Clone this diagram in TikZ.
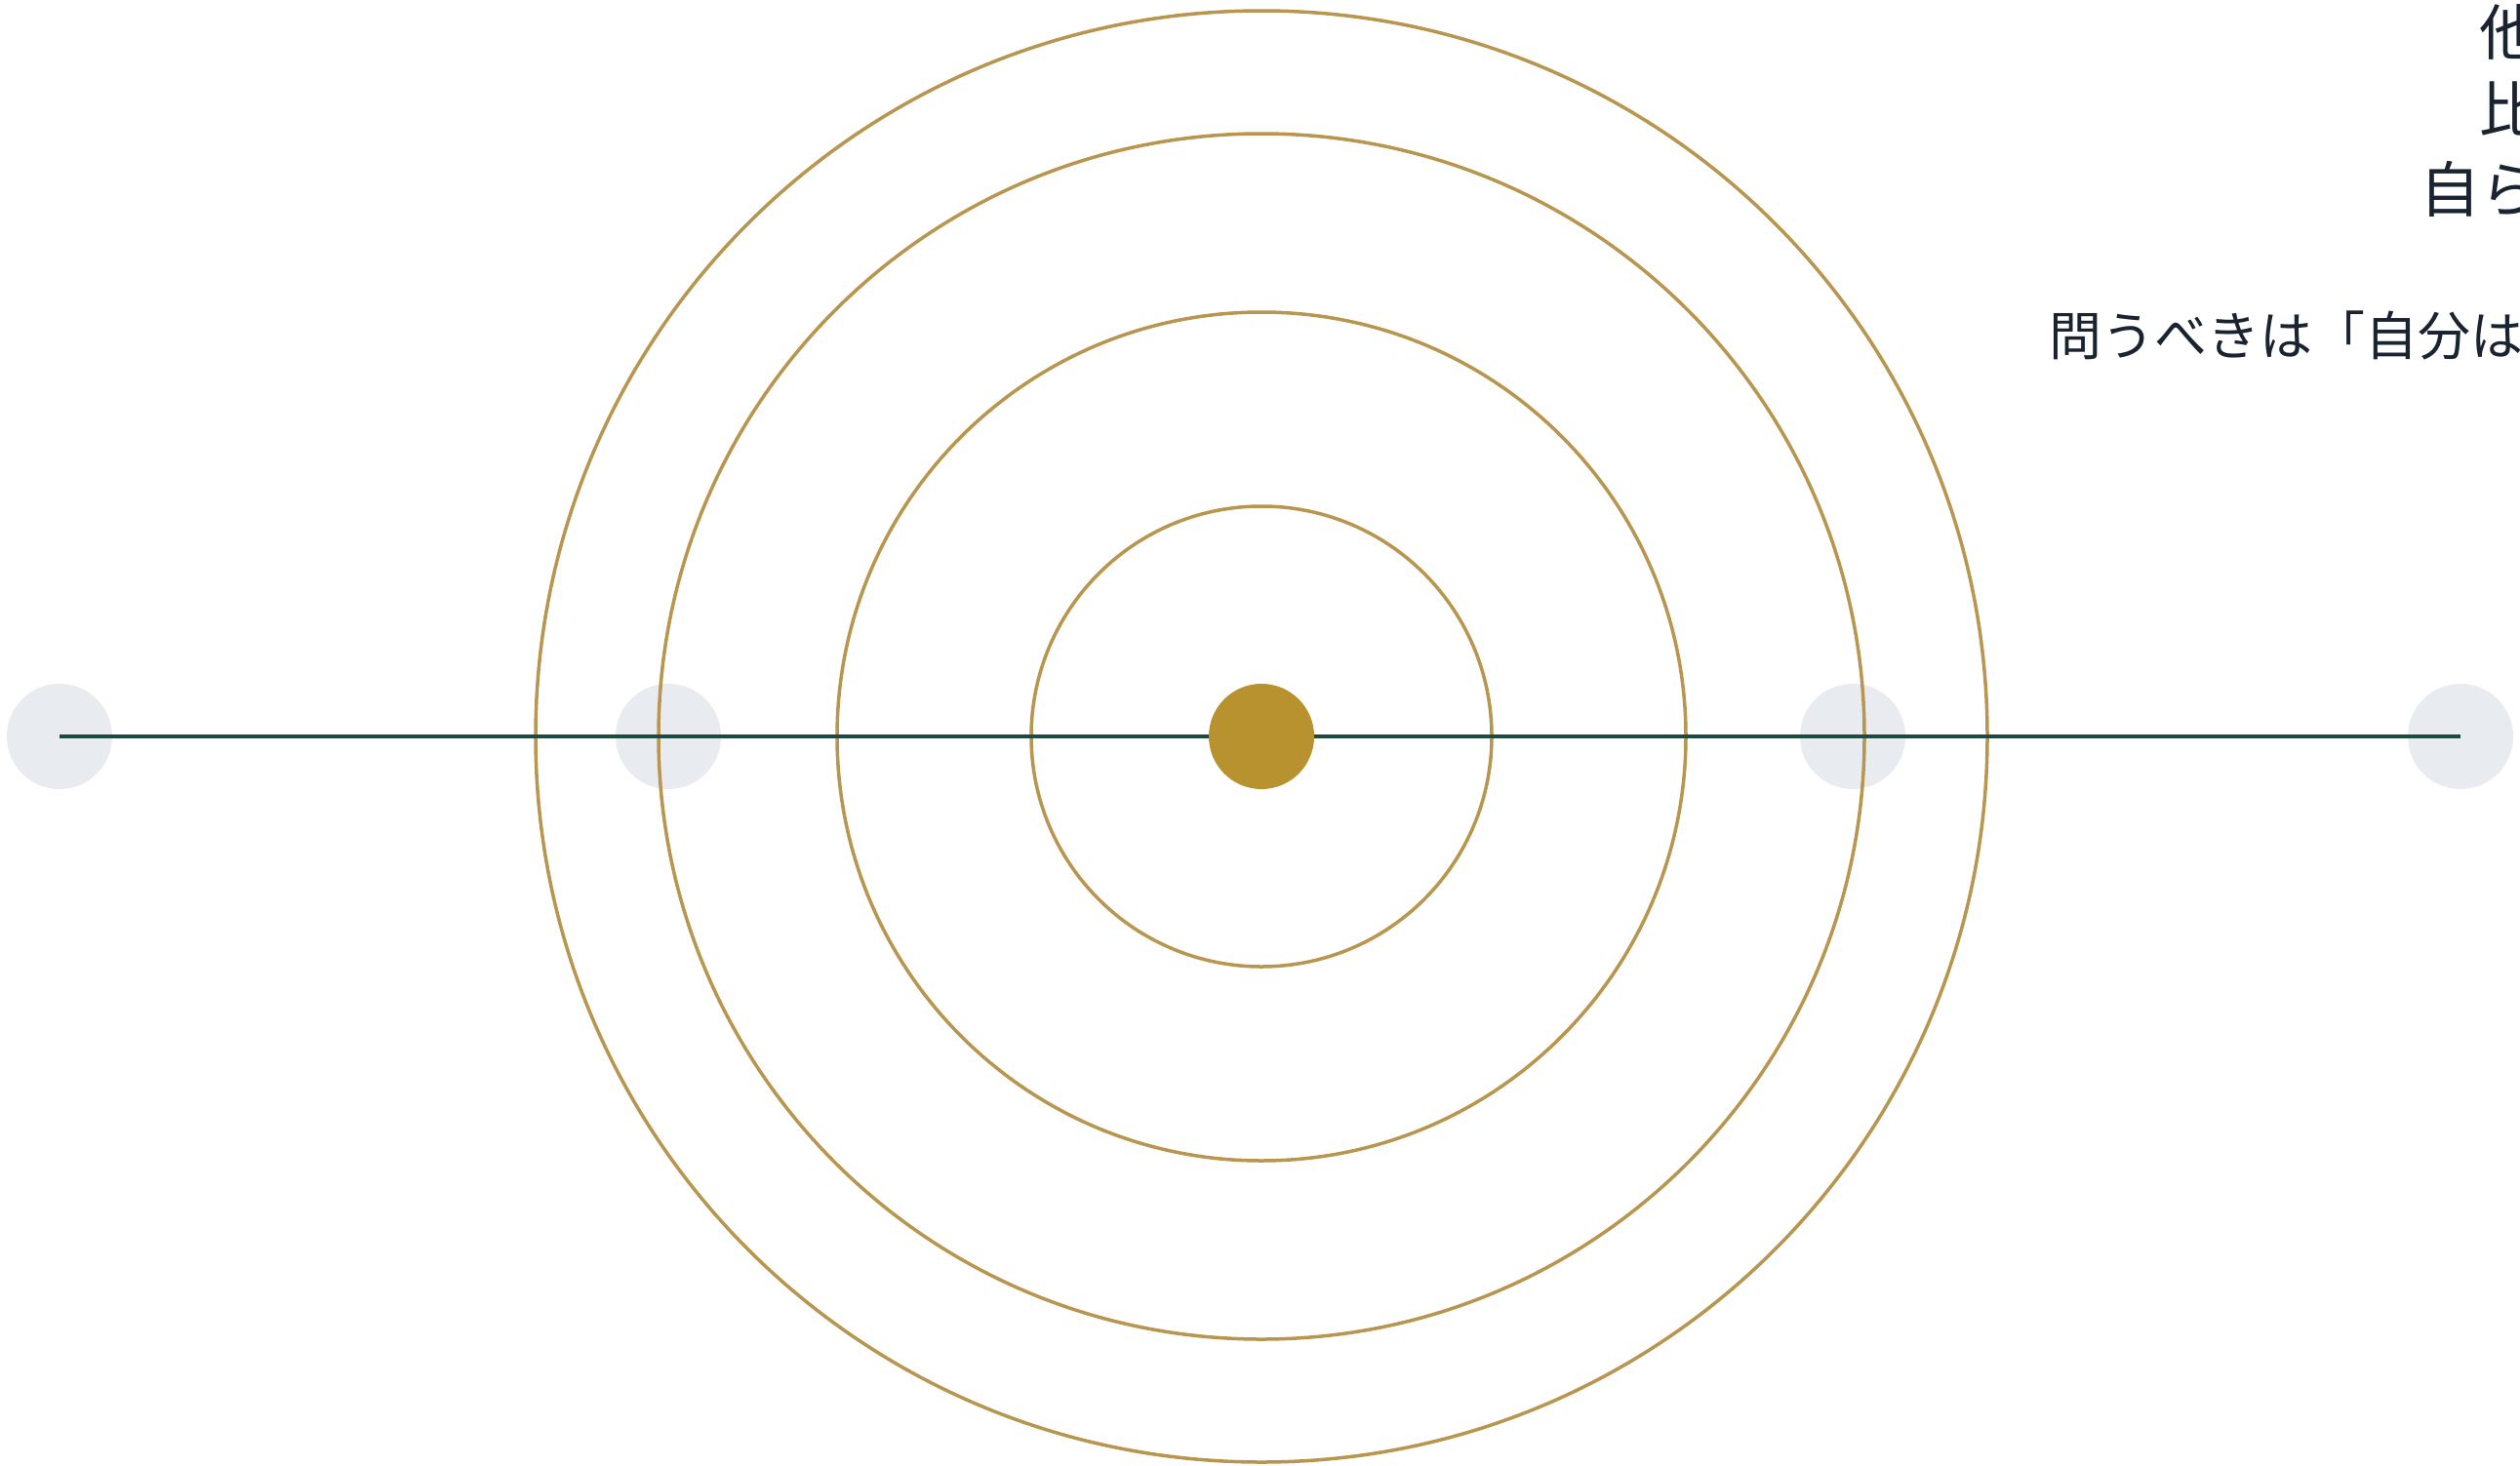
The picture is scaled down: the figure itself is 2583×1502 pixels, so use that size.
\documentclass[tikz,border=0pt]{standalone}
\usepackage{fontspec}
\newfontfamily\jp{Noto Sans CJK JP}
\definecolor{ringgold}{HTML}{B8964F}
\definecolor{dotgold}{HTML}{B8922F}
\definecolor{linegreen}{HTML}{1E4A42}
\definecolor{softgray}{HTML}{E8EBEF}
\definecolor{ink}{HTML}{1A2330}
\tikzset{
  ring/.style={draw=ringgold, line width=3.5pt},
  halo/.style={circle, fill=softgray, minimum size=108pt, inner sep=0pt},
  core/.style={circle, fill=dotgold, minimum size=108pt, inner sep=0pt},
  axis/.style={draw=linegreen, line width=4.5pt},
  bigtxt/.style={inner sep=0pt, anchor=base west, text=ink, font=\jp\fontsize{62pt}{62pt}\selectfont},
  smalltxt/.style={inner sep=0pt, anchor=base west, text=ink, font=\jp\fontsize{54pt}{54pt}\selectfont},
}
\begin{document}
\begin{tikzpicture}[x=1pt,y=-1pt]
\useasboundingbox (0,0) rectangle (2583,1502);
\clip (0,0) rectangle (2583,1502);
\fill[white] (0,0) rectangle (2583,1502);
% halos
\node[halo] (g1) at (61,755) {};
\node[halo] (g2) at (685,755) {};
\node[halo] (g3) at (1899,755) {};
\node[halo] (g4) at (2522,755) {};
% rings
\coordinate (c) at (1293,755);
\draw[ring] (c) circle[radius=236];
\draw[ring] (c) circle[radius=435];
\draw[ring] (c) circle[radius=618];
\draw[ring] (c) circle[radius=744];
% axis
\draw[axis] (g1.center) -- (g4.center);
% core
\node[core] (dot) at (c) {};
% texts
\node[bigtxt] (t1) at (2541,56) {他};
\node[bigtxt] (t2) at (2541,135) {比};
\node[bigtxt] (t3) at (2480,217) {自ら};
\node[smalltxt] (t4) at (2100,364) {問うべきは「自分は};
\end{tikzpicture}
\end{document}
